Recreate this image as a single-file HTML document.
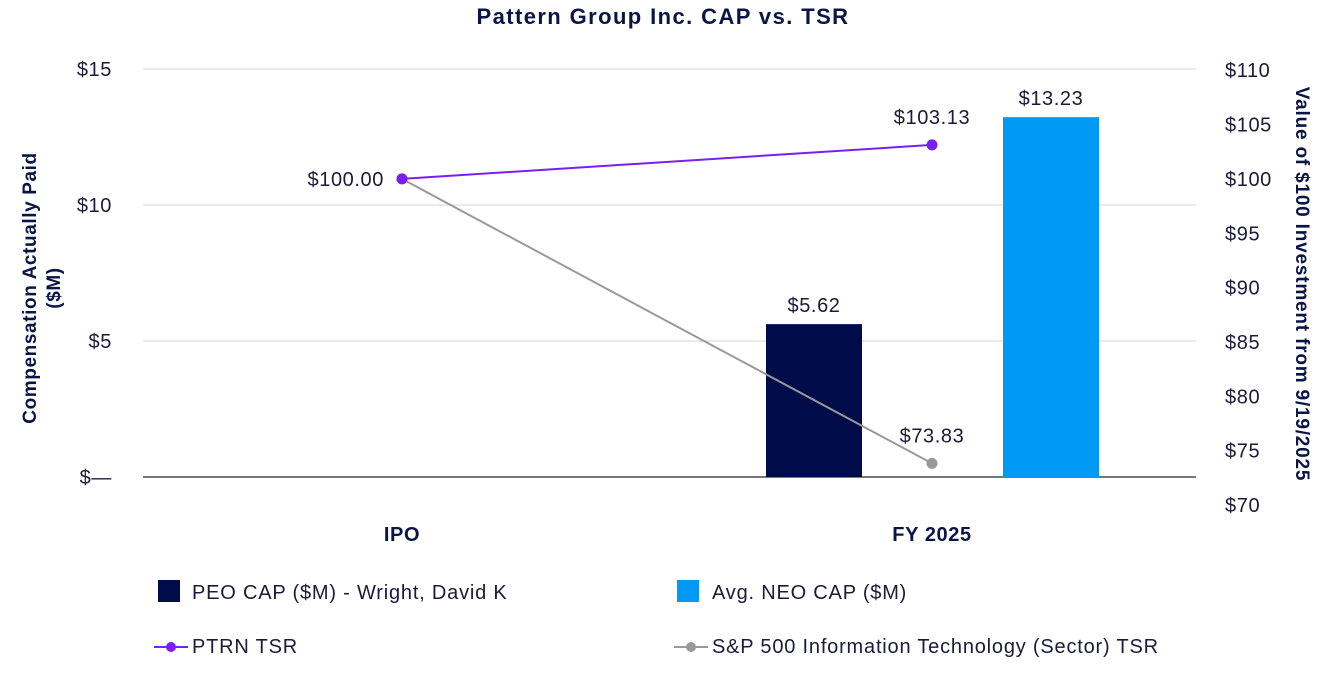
<!DOCTYPE html>
<html><head><meta charset="utf-8"><style>
body{margin:0;background:#fff;font-family:"Liberation Sans",sans-serif}
svg text{font-family:"Liberation Sans",sans-serif}
</style></head><body>
<svg width="1326" height="672">
<text x="663" y="24" text-anchor="middle" font-size="22" font-weight="bold" letter-spacing="1.4" fill="#0b1446">Pattern Group Inc. CAP vs. TSR</text>
<g id="grid"></g><g id="marks"></g>
<text transform="translate(36,288) rotate(-90)" text-anchor="middle" font-size="19" font-weight="bold" letter-spacing="0.6" fill="#0b1446"><tspan x="0" dy="0">Compensation Actually Paid</tspan><tspan x="0" dy="24">($M)</tspan></text>
<text transform="translate(1296,284) rotate(90)" text-anchor="middle" font-size="19" font-weight="bold" letter-spacing="0.8" fill="#0b1446">Value of $100 Investment from 9/19/2025</text>
<g font-size="20" letter-spacing="0.8">
<rect x="158" y="580" width="22" height="22" fill="#000c4a"/>
<text x="192" y="599" fill="#1a1a3a">PEO CAP ($M) - Wright, David K</text>
<rect x="677" y="580" width="22" height="22" fill="#0099f5"/>
<text x="712" y="599" fill="#1a1a3a">Avg. NEO CAP ($M)</text>
<line x1="154" y1="647" x2="188" y2="647" stroke="#7a1ff0" stroke-width="2"/><circle cx="171" cy="647" r="5" fill="#7a1ff0"/>
<text x="192" y="653" fill="#1a1a3a">PTRN TSR</text>
<line x1="674" y1="647" x2="708" y2="647" stroke="#999" stroke-width="2"/><circle cx="691" cy="647" r="5" fill="#999"/>
<text x="712" y="653" fill="#1a1a3a">S&amp;P 500 Information Technology (Sector) TSR</text>
</g>
</svg>
<script>
const categories=["IPO","FY 2025"];
const peoCap=[null,5.62];
const neoCap=[null,13.23];
const ptrnTsr=[100.00,103.13];
const spTsr=[100.00,73.83];
const leftTicks=[0,5,10,15];
const leftTickLabels=["$—","$5","$10","$15"];
const rightTicks=[70,75,80,85,90,95,100,105,110];
const NS="http://www.w3.org/2000/svg";
const yL=v=>477-v*27.2;
const yR=v=>505-(v-70)*10.87;
const xC=i=>402+i*530;
const grid=document.getElementById('grid'),marks=document.getElementById('marks');
function mk(tag,attrs,parent,txt){const e=document.createElementNS(NS,tag);for(const k in attrs)e.setAttribute(k,attrs[k]);if(txt!=null)e.textContent=txt;parent.appendChild(e);return e;}
leftTicks.forEach((t,i)=>{
 const l=mk('line',{x1:143,x2:1196,y1:yL(t),y2:yL(t),stroke:t===0?'#777':'#e3e3e3','stroke-width':t===0?2:1.5},grid);
 
 
 const tx=mk('text',{x:112,y:yL(t)+7,'text-anchor':'end','font-size':20,'letter-spacing':0.6,fill:'#1a1a3a'},grid,leftTickLabels[i]);
 
 
});
rightTicks.forEach(t=>{
 const tx=mk('text',{x:1225,y:yR(t)+7,'font-size':20,'letter-spacing':0.6,fill:'#1a1a3a'},grid,'$'+t);
 
 
});
categories.forEach((c,i)=>{
 const tx=mk('text',{x:xC(i),y:541,'text-anchor':'middle','font-size':20,'font-weight':'bold','letter-spacing':0.6,fill:'#0b1446'},grid,c);
 
 
});
function bars(arr,off,color,name){arr.forEach((v,i)=>{if(v==null)return;
 const x=xC(i)+off;
 const r=mk('rect',{x:x,y:yL(v),width:96,height:yL(0)-yL(v),fill:color},marks);
 
 
 const t=mk('text',{x:x+48,y:yL(v)-12,'text-anchor':'middle','font-size':20,'letter-spacing':0.6,fill:'#1a1a3a'},marks,'$'+v.toFixed(2));
 
 
});}
bars(peoCap,-166,'#000c4a','peo-cap-bar');
bars(neoCap,71,'#0099f5','neo-cap-bar');
function line(arr,color,name,labelPos){
 const pts=arr.map((v,i)=>xC(i)+','+yR(v)).join(' ');
 const p=mk('polyline',{points:pts,fill:'none',stroke:color,'stroke-width':2},marks);
 
 
 arr.forEach((v,i)=>{
  const c=mk('circle',{cx:xC(i),cy:yR(v),r:5.5,fill:color},marks);
  
  
  const lp=labelPos[i];if(!lp)return;
  const t=mk('text',{x:lp==='left'?xC(i)-18:xC(i),y:lp==='left'?yR(v)+7:yR(v)-21,'text-anchor':lp==='left'?'end':'middle','font-size':20,'letter-spacing':0.6,fill:'#1a1a3a'},marks,'$'+v.toFixed(2));
  
  
 });
}
line(spTsr,'#999','sp-tsr',[null,'above']);
line(ptrnTsr,'#7a1ff0','ptrn-tsr',['left','above']);
</script>
</body></html>
